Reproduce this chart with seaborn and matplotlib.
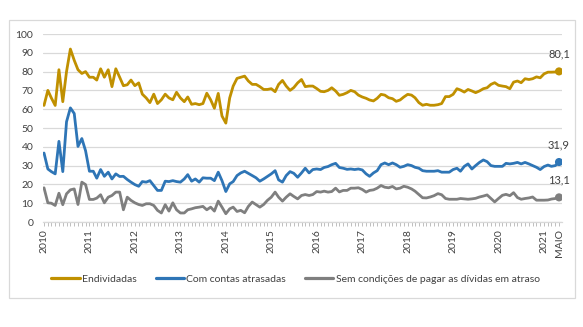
import matplotlib
matplotlib.use("Agg")
import matplotlib.pyplot as plt
import matplotlib.dates as mdates
from matplotlib.patches import Rectangle
from matplotlib.lines import Line2D
import seaborn as sns
import pandas as pd
import numpy as np

# ---------------- data ----------------
start_month = "2010-01"
n_months = 137

endividadas = [
    62, 70, 66, 62, 81, 64, 80, 92, 86, 81, 79, 80, 77, 77, 75.5, 81.5, 77, 81, 72, 81.5, 77, 72.5, 73, 75.5,
    72.5, 74, 68, 66, 63.5, 68, 63, 65, 68, 66, 65, 69,
    66, 64, 66.5, 62.6, 63, 62.4, 63, 68.5, 65, 60.5, 68.4, 56.4, 52.6, 66, 72.3, 76.4, 77, 77.6, 75, 73.2,
    73.2, 72, 70.5, 70.5, 70.9, 69.3, 73.2, 75.3, 72.3, 70, 71.5, 74, 75.8, 72, 72.3,
    72.3, 71, 69.5, 69.3, 70, 71.4, 69.7, 67.4, 67.9, 68.8, 70, 69.3, 67.5, 66.5, 65.8, 64.9, 64.4, 65.8,
    67.9, 67.5, 66.1, 65.6, 64.2, 64.9, 66.5, 67.9, 67.5, 66.1, 63.5, 62.1, 62.6, 62.1, 62.1, 62.4, 63,
    66.7, 66.7, 67.9, 70.9, 70.2, 69.1, 70.5, 69.7, 68.8, 69.7, 70.9, 71.4, 73.2, 74.1, 72.7, 72.3, 72,
    70.9, 74.4, 75, 74.1, 76.2, 75.8, 76.2, 77.2, 76.7, 78.8, 79.7, 79.7, 79.8, 80.1,
]
contas_atrasadas = [
    36.7, 28.2, 26.8, 25.6, 42.9, 26.8, 53.3, 60.7, 57.7, 40.2, 44.4, 37.9, 27, 27, 23.3, 27.9, 24.3, 26.5,
    22.9, 25.6, 24.2, 24.3, 22.6, 21.2, 19.9, 19, 21.5, 21.2, 22, 19.4, 16.8, 16.8, 21.7, 21.5, 22, 21.5,
    21.2, 22.9, 25.2, 21.7, 22.9, 21.2, 23.5, 23.3, 23.3, 22, 26.5, 22, 16.2, 20.3, 21.5, 24.7, 26.1, 27,
    25.9, 24.7, 23.5, 21.7, 22.9, 24.2, 25.6, 27.3, 22.4, 21.2, 24.7, 26.8, 25.9, 23.8, 26.1, 28.6, 26.1,
    27.9, 28.2, 27.9, 29, 29.5, 30.5, 31.2, 29, 28.6, 28, 28.2, 27.9, 28.2, 27.7, 25.6, 24.3, 26.1, 27.3,
    30.5, 31.4, 30.5, 31.4, 30.5, 29.1, 29.6, 30.5, 30, 29.1, 28.6, 27.3, 27, 27, 27, 27.3, 26.5,
    26.5, 26.5, 27.9, 28.6, 27, 29.6, 30.9, 28.2, 30, 31.7, 33, 32.1, 30, 29.6, 29.6, 29.6, 31.2, 30.9,
    31.2, 31.7, 30.9, 31.7, 30.9, 30, 29.1, 27.9, 29.5, 30.3, 29.6, 30, 31.9,
]
sem_condicoes = [
    18.2, 10.2, 10, 8.8, 15.3, 9.2, 15, 17.1, 17.6, 9.3, 21.2, 19.9, 12, 12, 12.7, 14.5, 10.2, 13.2, 14.1,
    15.9, 15.9, 6.5, 13.2, 11.5, 10.2, 9.3, 8.8, 9.7, 9.7, 8.8, 6.2, 4.8, 9.2, 5.8, 10.2, 6.5,
    4.8, 4.8, 6.5, 7, 7.6, 7.9, 8.3, 6.5, 7.9, 5.8, 11.1, 7.9, 4.4, 7, 7.9, 5.6, 6.2, 4.9, 8.3, 10.6, 9.2,
    7.9, 9.3, 11.5, 13.2, 15.9, 13.2, 11.1, 13.2, 15, 13.6, 12.3, 14.1, 14.6, 14.1,
    14.6, 16.2, 15.9, 16.4, 15.9, 16.2, 18, 16, 16.8, 16.8, 18, 18, 18.2, 17.3, 15.9, 16.8, 17.1, 18, 19.4,
    18.5, 18.2, 18.9, 17.6, 18, 19, 18.5, 17.6, 16.4, 14.6, 12.9, 12.8, 13.3, 14, 15.1, 14.5,
    12.5, 12.1, 12.1, 12.1, 12.5, 12.3, 12.1, 12.3, 12.6, 13.3, 13.8, 14.4, 12.5, 10.7, 12.5, 14.2, 14.7,
    14, 15.6, 13, 12.1, 12.5, 12.8, 13.3, 11.6, 11.6, 11.6, 11.7, 12.2, 12.5, 13.1,
]
series_names = ["Endividadas", "Com contas atrasadas", "Sem condições de pagar as dívidas em atraso"]
series_colors = ["#C09000", "#2E75B6", "#7F7F7F"]
end_labels = ["80,1", "31,9", "13,1"]
last_label = "MAIO"

# ---------------- build frame ----------------
dates = pd.date_range(start_month, periods=n_months, freq="MS")
frames = []
for name, vals in zip(series_names, [endividadas, contas_atrasadas, sem_condicoes]):
    frames.append(pd.DataFrame({"data": dates, "valor": vals, "serie": name}))
df = pd.concat(frames, ignore_index=True)

# ---------------- style ----------------
sns.set_theme(style="white")
plt.rcParams["font.family"] = ["Lato", "DejaVu Sans"]
text_color = "#404040"
grid_color = "#D9D9D9"

W, H = 583, 327
fig = plt.figure(figsize=(W / 100, H / 100), dpi=100)
left, right, top, bottom = 43, 562, 34, 222
ax = fig.add_axes([left / W, 1 - bottom / H, (right - left) / W, (bottom - top) / H])

palette = dict(zip(series_names, series_colors))
sns.lineplot(data=df, x="data", y="valor", hue="serie", palette=palette,
             linewidth=2.0, ax=ax, legend=False)

# end markers and labels
last = df.groupby("serie", sort=False).tail(1)
sns.scatterplot(data=last, x="data", y="valor", hue="serie", palette=palette,
                s=34, edgecolor="none", ax=ax, legend=False, zorder=5)
for (_, row), lab in zip(last.iterrows(), end_labels):
    ax.annotate(lab, (row["data"], row["valor"]), xytext=(0, 12.5), textcoords="offset points",
                ha="center", va="center", fontsize=8, color=text_color)

# axes
ax.set_ylim(0, 100)
ax.set_yticks(np.arange(0, 101, 10))
ax.set_xlim(dates[0] - pd.Timedelta(days=8), dates[-1] + pd.Timedelta(days=24))
ax.yaxis.grid(True, color=grid_color, linewidth=0.9)
ax.xaxis.grid(False)
for s in ["left", "right", "top"]:
    ax.spines[s].set_visible(False)
ax.spines["bottom"].set_color(grid_color)
ax.spines["bottom"].set_linewidth(0.9)

year_ticks = [d for d in dates if d.month == 1]
tick_pos = year_ticks + [dates[-1]]
tick_lab = [str(d.year) for d in year_ticks] + [last_label]
ax.set_xticks(tick_pos)
ax.set_xticklabels(tick_lab, rotation=90, fontsize=7.5, color=text_color)
ax.xaxis.set_minor_locator(mdates.MonthLocator())
ax.tick_params(axis="x", which="both", direction="out", length=3, width=0.7,
               color="#BFBFBF", pad=2, bottom=True)
ax.tick_params(axis="y", length=0, pad=7, labelsize=7.5, labelcolor=text_color)
ax.set_xlabel("")
ax.set_ylabel("")

# legend
handles = [Line2D([0], [0], color=c, lw=2.3) for c in series_colors]
fig.legend(handles, series_names, loc="center", bbox_to_anchor=(0.507, 1 - 279 / H), ncol=3,
           frameon=False, fontsize=7.5, handlelength=2.7, handletextpad=0.25,
           columnspacing=1.8, labelcolor=text_color)

# chart border
fig.patches.append(Rectangle((9 / W, 1 - 298 / H), (575 - 9) / W, (298 - 20) / H,
                             transform=fig.transFigure, fill=False,
                             edgecolor=grid_color, linewidth=0.9))

fig.savefig("out.png", dpi=100)
